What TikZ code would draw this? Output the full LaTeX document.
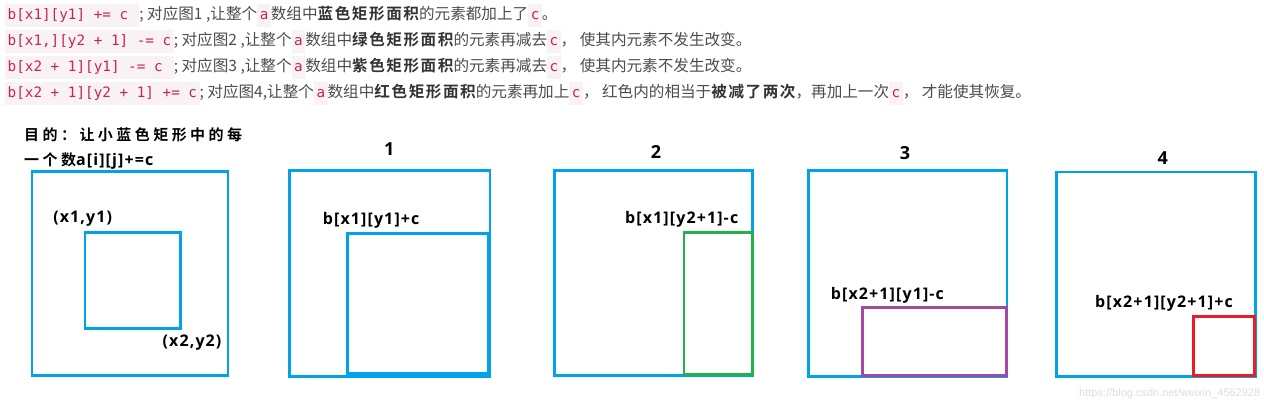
\documentclass[tikz,border=0pt]{standalone}
\usepackage{fontspec}
\setmainfont{Noto Sans CJK SC}[BoldFont=Noto Sans CJK SC Bold,BoldFeatures={LetterSpace=10}]
\newfontfamily\mono{DejaVu Sans Mono}
\newfontfamily\cjkls{Noto Sans CJK SC Bold}[LetterSpace=23]
\newfontfamily\latb{Open Sans Bold}[LetterSpace=7]
\newfontfamily\latn{Open Sans Bold}
\newfontfamily\wm{Liberation Sans}
\definecolor{codebg}{HTML}{F9F2F4}
\definecolor{codefg}{HTML}{C7254E}
\definecolor{txt}{HTML}{4D4D4D}
\definecolor{txtb}{HTML}{333333}
\definecolor{pblue}{HTML}{00A2E8}
\definecolor{pgreen}{HTML}{22B14C}
\definecolor{ppurple}{HTML}{A349A4}
\definecolor{pred}{HTML}{ED1C24}
\newcommand\cd[1]{{\fboxsep=0pt\colorbox{codebg}{\rule[-7pt]{0pt}{23pt}\hspace{2.5pt}{\mono\fontsize{14.3}{16}\selectfont\color{codefg}#1}\hspace{2.5pt}}}}
\newcommand\bt[1]{{\bfseries\color{txtb}#1}}
\begin{document}
\begin{tikzpicture}[x=1pt,y=-1pt,
  line/.style={anchor=west,inner sep=0pt,text=txt,font=\fontsize{15.6}{18}\selectfont},
  title/.style={anchor=west,inner sep=0pt,text=black},
  lab/.style={inner sep=0pt,text=black,font=\latb\fontsize{16}{18}\selectfont},
  num/.style={inner sep=0pt,text=black,font=\latn\fontsize{18}{20}\selectfont},
  rect/.style={line width=2.8pt}]
\useasboundingbox (0,0) rectangle (1264,402);
\fill[white] (0,0) rectangle (1264,402);
% text lines
\node[line] (l1) at (5,15) {\cd{b[x1][y1] += c\ }; 对应图1 ,让整个\cd{a}数组中\bt{蓝色矩形面积}的元素都加上了\cd{c}。};
\node[line] (l2) at (5,41) {\cd{b[x1,][y2 + 1] -= c}; 对应图2 ,让整个\cd{a}数组中\bt{绿色矩形面积}的元素再减去\cd{c}， 使其内元素不发生改变。};
\node[line] (l3) at (5,67) {\cd{b[x2 + 1][y1] -= c\ }; 对应图3 ,让整个\cd{a}数组中\bt{紫色矩形面积}的元素再减去\cd{c}， 使其内元素不发生改变。};
\node[line] (l4) at (5,93) {\cd{b[x2 + 1][y2 + 1] += c}; 对应图4,让整个\cd{a}数组中\bt{红色矩形面积}的元素再加上\cd{c}， 红色内的相当于\bt{被减了两次}，再加上一次\cd{c}， 才能使其恢复。};
% title
\node[title] (t1) at (24,135) {\cjkls\fontsize{15}{18}\selectfont 目的：让小蓝色矩形中的每};
\node[title] (t2) at (24,160.7) {\cjkls\fontsize{15}{18}\selectfont 一个数\latb\fontsize{16}{18}\selectfont a[i][j]+=c};
% box 0
\draw[rect,pblue] (32,171.7) rectangle (228,375.7);
\draw[rect,pblue] (85,232.7) rectangle (180.8,328.8);
\node[lab] (p1) at (82.7,219) {(x1,y1)};
\node[lab] (p2) at (192,343) {(x2,y2)};
% box 1
\node[num] (n1) at (389.3,149.3) {1};
\draw[rect,pblue] (289.7,170.8) rectangle (490,376.2);
\draw[rect,pblue] (347.3,233.3) rectangle (488,373.6);
\node[lab,anchor=west] (b1) at (322.7,220) {b[x1][y1]+c};
% box 2
\node[num] (n2) at (656,151.7) {2};
\draw[rect,pblue] (554.2,170.8) rectangle (752.7,375.8);
\draw[rect,pgreen] (684,232.8) rectangle (752.7,374.7);
\node[lab,anchor=west] (b2) at (625,219.3) {b[x1][y2+1]-c};
% box 3
\node[num] (n3) at (905,152.7) {3};
\draw[rect,pblue] (808.3,170.8) rectangle (1007,376.3);
\draw[rect,ppurple] (862.8,307.5) rectangle (1006.7,375.8);
\node[lab,anchor=west] (b3) at (830.7,295) {b[x2+1][y1]-c};
% box 4
\node[num] (n4) at (1162.7,158.3) {4};
\draw[rect,pblue] (1056.3,172) rectangle (1255.3,376.7);
\draw[rect,pred] (1193.7,316.3) rectangle (1254.2,375.8);
\node[lab,anchor=west] (b4) at (1095,303.3) {b[x2+1][y2+1]+c};
% watermark
\node[anchor=base west,inner sep=0pt,text=black!13,font=\wm\fontsize{11}{13}\selectfont] (wmk) at (1079,396) {https://blog.csdn.net/weixin\_4562928};
\end{tikzpicture}
\end{document}
